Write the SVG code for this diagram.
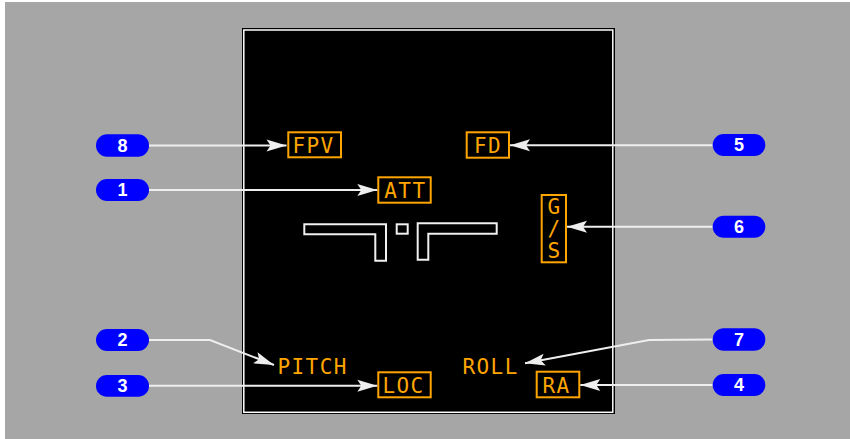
<svg xmlns="http://www.w3.org/2000/svg" width="850" height="439" viewBox="0 0 850 439">
<style>
.lbl{font-family:"DejaVu Sans Mono",monospace;font-size:21px;fill:#ffa500;letter-spacing:1.4px}
.box{fill:none;stroke:#ffa500;stroke-width:2}
.sym{fill:none;stroke:#f0f0f0;stroke-width:2}
.badge{fill:#0000ff}
.num{font-family:"Liberation Sans",Arial,sans-serif;font-weight:bold;font-size:18px;fill:#ffffff;text-anchor:middle}
.con{fill:none;stroke:#eeeeee;stroke-width:2}
</style>
<defs>
<marker id="arr" markerUnits="userSpaceOnUse" markerWidth="24" markerHeight="16" viewBox="-21 -8 24 16" refX="0" refY="0" orient="auto">
<path d="M0,0 L-20,-6 L-16,0 L-20,6 Z" fill="#eeeeee"/>
</marker>
</defs>
<rect x="5" y="2" width="845" height="437" fill="#a6a6a6"/>
<g id="panel">
<rect x="242" y="28" width="373" height="386" fill="#000000"/>
<rect x="243.8" y="30" width="369" height="382.3" fill="none" stroke="#ffffff" stroke-width="1.5"/>
</g>
<g id="aircraft">
<polygon class="sym" points="304.3,224.3 386,224.3 386,260.7 375.3,260.7 375.3,234.3 304.3,234.3"/>
<rect class="sym" x="396.7" y="224.3" width="11" height="9.4"/>
<polygon class="sym" points="417.7,223.3 496.7,223.3 496.7,233.7 428.3,233.7 428.3,259.7 417.7,259.7"/>
</g>
<g id="fpv"><rect class="box" x="288.3" y="132.3" width="52.7" height="25"/><text class="lbl" x="292.5" y="152.5">FPV</text></g>
<g id="fd"><rect class="box" x="466.7" y="132.3" width="42.3" height="25.4"/><text class="lbl" x="474" y="152.5">FD</text></g>
<g id="att"><rect class="box" x="378.3" y="177.3" width="52.4" height="25.4"/><text class="lbl" x="384.3" y="197.9">ATT</text></g>
<g id="gs"><rect class="box" x="541.7" y="195" width="24.3" height="67.3"/>
<text class="lbl" style="letter-spacing:0;text-anchor:middle" x="553.8" y="213.5">G</text>
<text class="lbl" style="letter-spacing:0;text-anchor:middle" x="553.8" y="236">/</text>
<text class="lbl" style="letter-spacing:0;text-anchor:middle" x="553.8" y="258">S</text></g>
<g id="pitch"><text class="lbl" x="277.5" y="374.3">PITCH</text></g>
<g id="roll"><text class="lbl" x="462.5" y="374.3">ROLL</text></g>
<g id="loc"><rect class="box" x="378.3" y="372.3" width="52.4" height="25"/><text class="lbl" x="382.5" y="392.7">LOC</text></g>
<g id="ra"><rect class="box" x="536.7" y="371.7" width="42.6" height="25.6"/><text class="lbl" x="542.5" y="392.5">RA</text></g>
<g id="connectors">
<path class="con" marker-end="url(#arr)" d="M149,145.5 L286.5,145.5"/>
<path class="con" marker-end="url(#arr)" d="M149,190 L377.3,190"/>
<path class="con" marker-end="url(#arr)" d="M149,340 L210,340 L274,365"/>
<path class="con" marker-end="url(#arr)" d="M149,385.8 L377.3,385.8"/>
<path class="con" marker-end="url(#arr)" d="M712.7,145.2 L510,145.2"/>
<path class="con" marker-end="url(#arr)" d="M712.7,226.7 L567,226.7"/>
<path class="con" marker-end="url(#arr)" d="M712.7,339.5 L649,340 L525,363.3"/>
<path class="con" marker-end="url(#arr)" d="M712.7,385 L580.3,385"/>
</g>
<g id="b8"><rect class="badge" x="96" y="134.3" width="53" height="22.4" rx="11.2"/><text class="num" x="122.5" y="151.8">8</text></g>
<g id="b1"><rect class="badge" x="96" y="179" width="53" height="22" rx="11"/><text class="num" x="122.5" y="196.4">1</text></g>
<g id="b2"><rect class="badge" x="96" y="329" width="53" height="22" rx="11"/><text class="num" x="122.5" y="346.4">2</text></g>
<g id="b3"><rect class="badge" x="96" y="375" width="53" height="21.7" rx="10.8"/><text class="num" x="122.5" y="392.2">3</text></g>
<g id="b5"><rect class="badge" x="712.7" y="134" width="52.6" height="22" rx="11"/><text class="num" x="739" y="151.4">5</text></g>
<g id="b6"><rect class="badge" x="712.7" y="215.7" width="52.6" height="22" rx="11"/><text class="num" x="739" y="233.1">6</text></g>
<g id="b7"><rect class="badge" x="712.7" y="328.3" width="52.6" height="22.4" rx="11.2"/><text class="num" x="739" y="345.9">7</text></g>
<g id="b4"><rect class="badge" x="712.7" y="374" width="52.6" height="22" rx="11"/><text class="num" x="739" y="391.4">4</text></g>
</svg>
